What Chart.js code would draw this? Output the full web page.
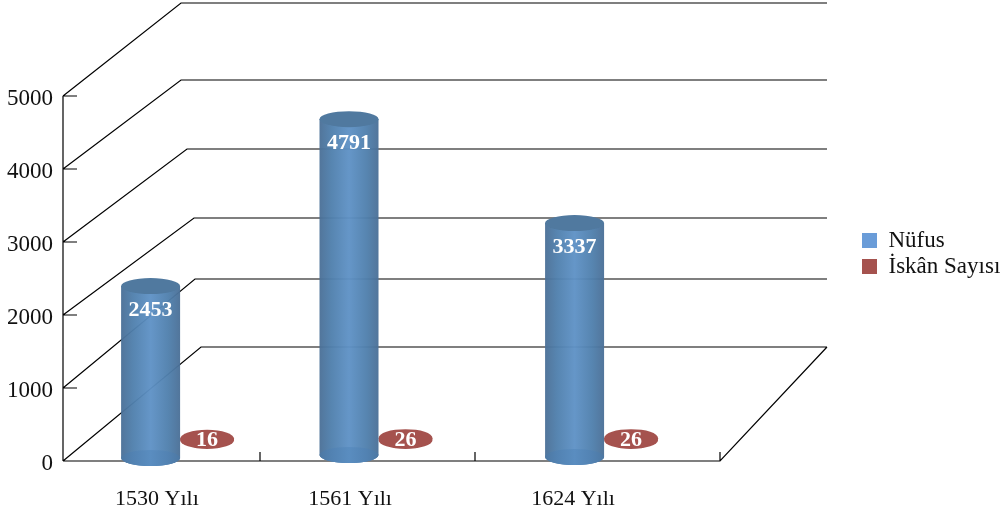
<!DOCTYPE html>
<html lang="tr">
<head>
    <meta charset="UTF-8">
    <title>Nüfus ve İskân Sayısı</title>
    <script src="https://cdn.jsdelivr.net/npm/chart.js"></script>
    <style>
        body { margin: 0; background: #fff; }
        canvas { display: block; }
    </style>
</head>
<body>
    <canvas id="chart" width="1007" height="511"></canvas>
    <script>
        const categories = ['1530 Yılı', '1561 Yılı', '1624 Yılı'];
        const nufus = [2453, 4791, 3337];
        const iskan = [16, 26, 26];
        const yTicks = [0, 1000, 2000, 3000, 4000, 5000];

        // the original is a skewed 3d chart, so slots are not evenly spaced
        const labelSlots = [0.429, 1.311, 2.329];
        const nufusSlots = [0.4, 1.306, 2.336];
        const iskanSlots = [0.658, 1.564, 2.594];
        const tickSlots = [0, 0.9, 1.881, 3];

        // back wall offsets per y tick, and shift of each cylinder foot
        const wallDx = [138, 132, 131, 124, 118, 118];
        const wallDy = [114, 109, 97, 93, 89, 93];
        const wallRight = 827;
        const nufusShift = [0, -3, -1];
        const iskanShift = -18;

        const serif = '"Liberation Serif", serif';
        const blue = '#6a9cd8';
        const red = '#a5524e';

        function ellipse(ctx, x, y, rx, ry) {
            ctx.beginPath();
            ctx.ellipse(x, y, rx, ry, 0, 0, Math.PI * 2);
            ctx.closePath();
        }

        function sideGradient(ctx, x, r, edge, mid, center) {
            const g = ctx.createLinearGradient(x - r, 0, x + r, 0);
            g.addColorStop(0, edge);
            g.addColorStop(0.2, mid);
            g.addColorStop(0.5, center);
            g.addColorStop(0.8, mid);
            g.addColorStop(1, edge);
            return g;
        }

        // bars are drawn as cylinders, positions still come from the scales
        Chart.BarElement.prototype.draw = function (ctx) {
            const r = this.width / 2;
            ctx.save();
            if (this.series === 1) {
                ctx.fillStyle = red;
                ellipse(ctx, this.x, this.base + iskanShift, r, 9);
                ctx.fill();
                ellipse(ctx, this.x, this.y + iskanShift, r, 9);
                ctx.fill();
            } else {
                const ry = 8;
                const top = this.y + nufusShift[this.slot];
                const foot = this.base + nufusShift[this.slot];
                ctx.globalAlpha = 0.96;
                ctx.fillStyle = sideGradient(ctx, this.x, r, '#4b7097', '#5080ad', '#5f92c6');
                ctx.beginPath();
                ctx.moveTo(this.x - r, top);
                ctx.lineTo(this.x - r, foot);
                ctx.ellipse(this.x, foot, r, ry, 0, Math.PI, 0, true);
                ctx.lineTo(this.x + r, top);
                ctx.closePath();
                ctx.fill();
                ctx.globalAlpha = 1;
                ctx.fillStyle = sideGradient(ctx, this.x, r, '#4d78a3', '#5282b2', '#5a8dc0');
                ellipse(ctx, this.x, foot, r, ry);
                ctx.fill();
                ctx.fillStyle = '#50799f';
                ellipse(ctx, this.x, top, r, ry);
                ctx.fill();
            }
            ctx.restore();
        };

        const wallPlugin = {
            id: 'wall',
            beforeDatasetsDraw(chart) {
                const { ctx, chartArea } = chart;
                const y = chart.scales.y;
                const x = chart.scales.x;
                const left = chartArea.left;
                [0, 1].forEach(ds => chart.getDatasetMeta(ds).data.forEach((bar, i) => {
                    bar.series = ds;
                    bar.slot = i;
                }));
                ctx.save();
                ctx.strokeStyle = '#000';
                ctx.lineWidth = 1.2;
                ctx.beginPath();
                yTicks.forEach((v, i) => {
                    const py = Math.round(y.getPixelForValue(v));
                    const by = py - wallDy[i];
                    ctx.moveTo(left, py);
                    ctx.lineTo(left + wallDx[i], by);
                    ctx.lineTo(wallRight, by);
                    ctx.moveTo(left, py);
                    ctx.lineTo(left + 14, py);
                });
                const y0 = Math.round(y.getPixelForValue(0));
                ctx.moveTo(left, y0);
                ctx.lineTo(left, Math.round(y.getPixelForValue(5000)));
                ctx.moveTo(left, y0);
                ctx.lineTo(chartArea.right, y0);
                ctx.lineTo(wallRight, y0 - wallDy[0]);
                tickSlots.forEach(v => {
                    const px = Math.round(x.getPixelForValue(v));
                    ctx.moveTo(px, y0);
                    ctx.lineTo(px, y0 - 9);
                });
                ctx.stroke();
                ctx.restore();
            },
            afterDatasetsDraw(chart) {
                const ctx = chart.ctx;
                ctx.save();
                ctx.fillStyle = '#fff';
                ctx.font = 'bold 22px ' + serif;
                ctx.textAlign = 'center';
                ctx.textBaseline = 'middle';
                chart.getDatasetMeta(0).data.forEach((bar, i) => {
                    ctx.fillText(nufus[i], bar.x, bar.y + nufusShift[i] + 24);
                });
                chart.getDatasetMeta(1).data.forEach((bar, i) => {
                    ctx.fillText(iskan[i], bar.x, bar.base + iskanShift);
                });
                ctx.restore();
            },
            afterLayout(chart) {
                // legend sits right of the floor, outside the plot box
                const legend = chart.legend;
                legend.left = 859;
                legend.right = 1007;
                legend.top = 226;
                legend.bottom = 290;
            }
        };

        new Chart(document.getElementById('chart'), {
            type: 'bar',
            data: {
                datasets: [{
                    label: 'Nüfus',
                    data: nufus.map((v, i) => ({ x: nufusSlots[i], y: v })),
                    backgroundColor: blue,
                    barThickness: 59,
                    grouped: false,
                    clip: false,
                    yAxisID: 'yBars'
                }, {
                    label: 'İskân Sayısı',
                    data: iskan.map((v, i) => ({ x: iskanSlots[i], y: v })),
                    backgroundColor: red,
                    barThickness: 54,
                    grouped: false,
                    clip: false,
                    yAxisID: 'yBars'
                }]
            },
            options: {
                responsive: false,
                animation: false,
                layout: { padding: { top: 96, right: 287, left: 0, bottom: 0 } },
                plugins: {
                    tooltip: { enabled: false },
                    legend: {
                        position: 'chartArea',
                        align: 'start',
                        labels: {
                            boxWidth: 15,
                            boxHeight: 15,
                            padding: 3,
                            color: '#111',
                            font: { family: serif, size: 23 }
                        }
                    }
                },
                scales: {
                    x: {
                        type: 'linear',
                        offset: false,
                        min: 0,
                        max: 3,
                        grid: { display: false },
                        border: { display: false },
                        afterBuildTicks: axis => { axis.ticks = labelSlots.map(v => ({ value: v })); },
                        afterFit: axis => { axis.height = 50; },
                        ticks: {
                            autoSkip: false,
                            maxRotation: 0,
                            padding: 17,
                            color: '#111',
                            font: { family: serif, size: 22 },
                            callback: (v, i) => categories[i]
                        }
                    },
                    y: {
                        min: 0,
                        max: 5000,
                        grid: { display: false },
                        border: { display: false },
                        afterFit: axis => { axis.width = 63; },
                        ticks: {
                            stepSize: 1000,
                            padding: 2,
                            labelOffset: 3,
                            color: '#111',
                            font: { family: serif, size: 23 },
                            callback: v => String(v)
                        }
                    },
                    yBars: {
                        display: false,
                        min: -43,
                        max: 5164
                    }
                }
            },
            plugins: [wallPlugin]
        });
    </script>
</body>
</html>
